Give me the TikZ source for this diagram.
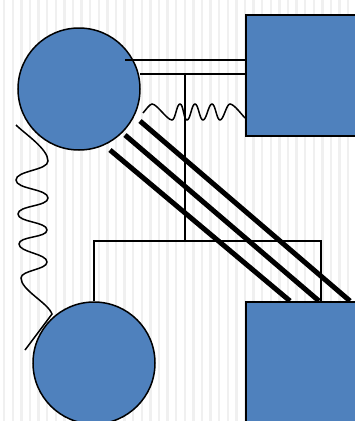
\documentclass[tikz,border=0pt]{standalone}
\usepackage{xcolor}
\usepackage{tikz}
\usetikzlibrary{calc}
\definecolor{ballblue}{HTML}{4F81BD}
\tikzset{
  ball/.style={circle, draw, line width=1.5pt, fill=ballblue, minimum size=122pt, inner sep=0pt},
  block/.style={rectangle, draw, line width=1.5pt, fill=ballblue, minimum width=150pt, minimum height=121pt, anchor=north west, inner sep=0pt},
  rod/.style={line width=1.5pt},
  bar/.style={line width=5pt},
  coil/.style={rod, looseness=0.5},
}

\begin{document}
\begin{tikzpicture}[x=1pt, y=-1pt]
    \useasboundingbox (0,0) rectangle (355,421);
    \clip (0,0) rectangle (355,421);
    \fill[white] (0,0) rectangle (355,421);
    \foreach \x in {3,11.6,...,355}
        \fill[black!6] (\x,0) rectangle ++(2.4,421);
    % masses
    \node[ball] (upball) at (79,89) {};
    \node[ball] (lowball) at (94,363) {};
    \node[block] (uprect) at (245,14) {};
    \node[block] (lowrect) at (245,301) {};
    % rods
    \coordinate (rodA) at (125,60);
    \coordinate (rodB) at (140,74);
    \coordinate (tee) at (185,74);
    \coordinate (yoke) at (321,241);
    \draw[rod] (rodA) -- (rodA -| uprect.west);
    \draw[rod] (rodB) -- (rodB -| uprect.west);
    \draw[rod] (tee) -- (tee |- yoke);
    \draw[rod] (lowball.north) |- (yoke) -- (yoke |- lowrect.north);
    % thick bars
    \foreach \s/\e in {{110,150}/45, {125,135}/74, {140,121}/105}
        \draw[bar] (\s) -- ([xshift=\e pt]lowrect.north west);
    % springs
    \coordinate (coilA) at (143,113);
    \draw[coil] (coilA) to[out=45,in=180] (152,104) to[out=0,in=180] (172,120)
        to[out=0,in=180] (180,104) to[out=0,in=180] (187,120)
        to[out=0,in=180] (195,104) to[out=0,in=180] (203,120)
        to[out=0,in=180] (212,104) to[out=0,in=180] (220,120)
        to[out=0,in=180] (230,104) to[out=0,in=135] (uprect.west |- 0,118);
    \coordinate (coilB) at (16,125);
    \coordinate (coilEnd) at (25,350);
    \draw[coil, looseness=0.65] (coilB) to[out=-45,in=90] (48,161) to[out=-90,in=90] (16,180)
        to[out=-90,in=90] (48,198) to[out=-90,in=90] (18,214)
        to[out=-90,in=90] (47,230) to[out=-90,in=90] (19,244)
        to[out=-90,in=90] (47,262) to[out=-90,in=90] (21,278)
        to[out=-90,in=110] (52,314) -- (coilEnd);
\end{tikzpicture}
\end{document}
